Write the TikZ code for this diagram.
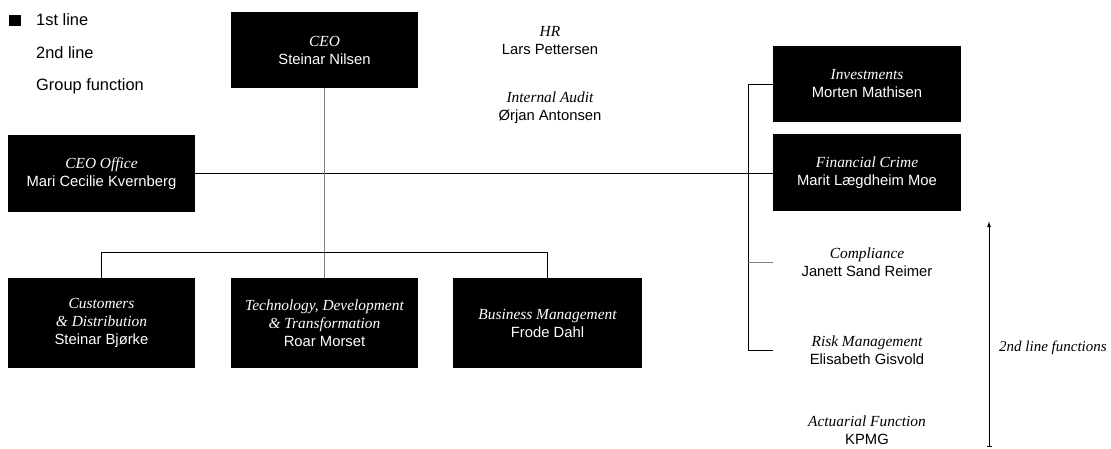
\documentclass[tikz,border=0pt]{standalone}
\usepackage{fontspec}
\newfontfamily\namefont{Liberation Sans}
\newfontfamily\titlefont{Liberation Serif}
\usetikzlibrary{arrows.meta}

\newcommand{\role}[2]{{\titlefont\itshape\fontsize{15.4}{18}\selectfont #1}\\{\namefont #2}}

\tikzset{
	firstline/.style={fill=black, text=white, minimum width=187pt, minimum height=76pt, inner sep=0pt, align=center, font=\fontsize{14.8}{18}\selectfont},
	groupfn/.style={align=center, inner sep=0pt, font=\fontsize{14.8}{18}\selectfont},
	keytext/.style={anchor=west, inner sep=0pt, font=\namefont\fontsize{16.4}{19}\selectfont},
	orgline/.style={line width=1pt}
}

\begin{document}
\begin{tikzpicture}[x=1pt,y=-1pt]
				\useasboundingbox (0,0) rectangle (1111,448);
				%% legend
				\node[fill=black, minimum width=12pt, minimum height=11pt, inner sep=0pt] (key) at (15,20) {};
				\node[keytext] (keyfirst) at (36,20) {1st line};
				\node[keytext] (keysecond) at (36,53) {2nd line};
				\node[keytext] (keygroup) at (36,86) {Group function};
				
				%% 1st line boxes
				\node[firstline] (ceo) at (324.5,50) {\role{CEO}{Steinar Nilsen}};
				\node[firstline, minimum height=77pt] (office) at (101.5,173.5) {\role{CEO Office}{Mari Cecilie Kvernberg}};
				\node[firstline, minimum height=90pt] (customers) at (101.5,323) {{\titlefont\itshape\fontsize{15.4}{18}\selectfont Customers}\\{\titlefont\itshape\fontsize{15.4}{18}\selectfont\& Distribution}\\{\namefont Steinar Bjørke}};
				\node[firstline, minimum height=90pt] (tech) at (324.5,323) {{\titlefont\itshape\fontsize{15.4}{18}\selectfont Technology, Development}\\{\titlefont\itshape\fontsize{15.4}{18}\selectfont\& Transformation}\\{\namefont Roar Morset}};
				\node[firstline, minimum height=90pt, minimum width=189pt] (business) at (547.5,323) {\role{Business Management}{Frode Dahl}};
				\node[firstline, minimum width=188pt] (invest) at (867,84) {\role{Investments}{Morten Mathisen}};
				\node[firstline, minimum width=188pt, minimum height=77pt] (fincrime) at (867,172.5) {\role{Financial Crime}{Marit Lægdheim Moe}};
				
				%% group and 2nd line functions
				\node[groupfn] (hr) at (550,41) {\role{HR}{Lars Pettersen}};
				\node[groupfn] (audit) at (550,108) {\role{Internal Audit}{Ørjan Antonsen}};
				\node[groupfn] (compliance) at (867,262) {\role{Compliance}{Janett Sand Reimer}};
				\node[groupfn] (risk) at (867,350) {\role{Risk Management}{Elisabeth Gisvold}};
				\node[groupfn] (actuarial) at (867,430.5) {\role{Actuarial Function}{KPMG}};
				
				%% lines
				\coordinate (bus) at (0,252);
				\coordinate (spine) at (748,0);
				\draw[orgline] (office.east) -- (office.east -| fincrime.west);
				\draw[orgline, gray] (ceo) -- (tech);
				\draw[orgline] (customers.north) -- (customers.north |- bus) -- (business.north |- bus) -- (business.north);
				\draw[orgline] (invest.west) -| (spine |- risk) -- (risk -| invest.west);
				\draw[orgline, gray] (compliance -| spine) -- (compliance -| invest.west);
				
				%% 2nd line arrow
				\coordinate (arrowfoot) at (989,447);
				\coordinate (arrowtip) at (989,221);
				\draw[orgline, {Bar[width=5pt]}-{Latex[length=6pt,width=4pt]}] (arrowfoot) -- (arrowtip);
				\node[anchor=west, inner sep=0pt, font=\titlefont\itshape\fontsize{15}{18}\selectfont] (secondline) at (999,348) {2nd line functions};
\end{tikzpicture}
\end{document}
